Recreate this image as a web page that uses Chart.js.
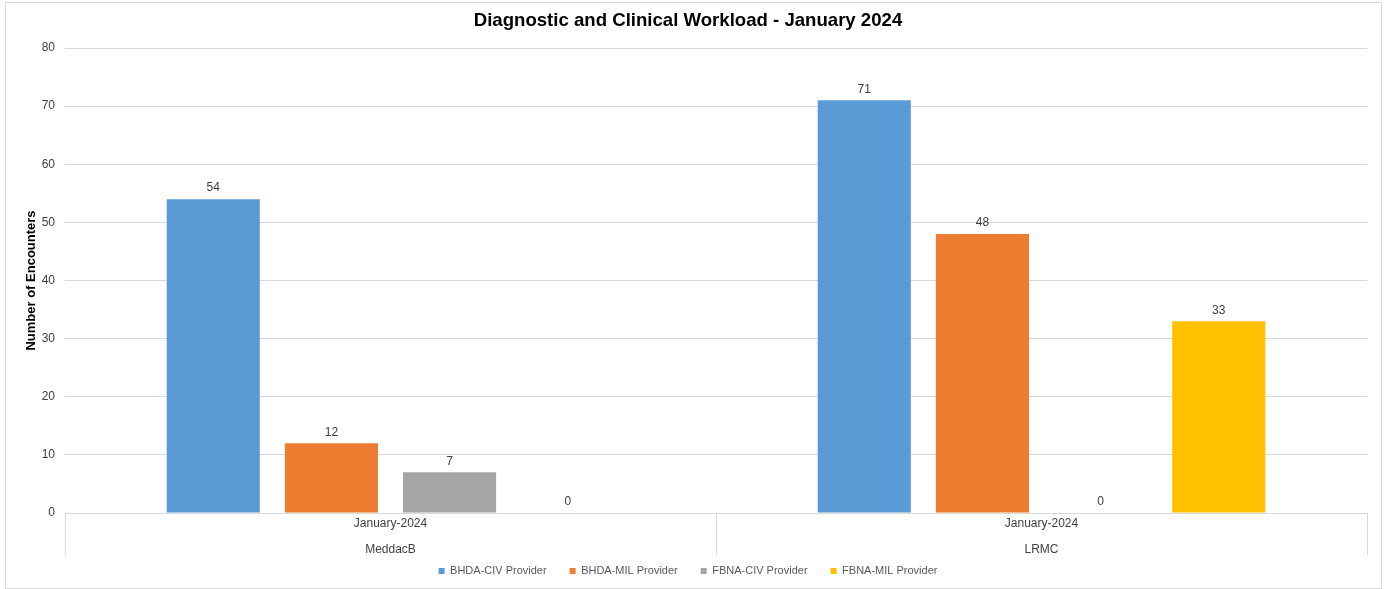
<!DOCTYPE html>
<html>
<head>
<meta charset="utf-8">
<script src="https://cdn.jsdelivr.net/npm/chart.js@4/dist/chart.umd.min.js"></script>
<style>
  body { margin: 0; background: #fff; }
  #wrap { position: absolute; left: 5px; top: 2px; width: 1375px; height: 585px; border: 1px solid #d9d9d9; }
</style>
</head>
<body>
<div id="wrap"><canvas id="WorkloadChart"></canvas></div>
<script>
// Categories (month / site)
var sites = [['January-2024', 'MeddacB'], ['January-2024', 'LRMC']];

// Encounters per provider type
var bhdaCiv = [54, 71];
var bhdaMil = [12, 48];
var fbnaCiv = [7, 0];
var fbnaMil = [0, 33];

var yTicks = [0, 10, 20, 30, 40, 50, 60, 70, 80];

Chart.defaults.font.family = "'Liberation Sans', Arial, sans-serif";
Chart.defaults.color = '#595959';

// value labels above each bar
var barLabels = {
    id: 'barLabels',
    afterDatasetsDraw: function (chart) {
        var ctx = chart.ctx;
        ctx.save();
        ctx.font = "12px 'Liberation Sans', Arial, sans-serif";
        ctx.fillStyle = '#404040';
        ctx.textAlign = 'center';
        ctx.textBaseline = 'bottom';
        chart.data.datasets.forEach(function (ds, i) {
            chart.getDatasetMeta(i).data.forEach(function (bar, j) {
                ctx.fillText(ds.data[j], bar.x, bar.y - 5);
            });
        });
        ctx.restore();
    }
};

// Excel-style category separators below the axis
var catDividers = {
    id: 'catDividers',
    afterDraw: function (chart) {
        var x = chart.scales.x;
        var ctx = chart.ctx;
        var n = chart.data.labels.length;
        var step = (x.right - x.left) / n;
        ctx.save();
        ctx.strokeStyle = '#d9d9d9';
        ctx.lineWidth = 1;
        for (var i = 0; i <= n; i++) {
            var px = Math.round(x.left + step * i) + 0.5;
            ctx.beginPath();
            ctx.moveTo(px, x.top);
            ctx.lineTo(px, x.top + 42);
            ctx.stroke();
        }
        ctx.restore();
    }
};

var ctx = document.getElementById('WorkloadChart');

var workloadChart = new Chart(ctx, {
    type: 'bar',
    data: {
        labels: sites,
        datasets: [
            { label: 'BHDA-CIV Provider', data: bhdaCiv, backgroundColor: '#5b9bd5' },
            { label: 'BHDA-MIL Provider', data: bhdaMil, backgroundColor: '#ed7d31' },
            { label: 'FBNA-CIV Provider', data: fbnaCiv, backgroundColor: '#a5a5a5' },
            { label: 'FBNA-MIL Provider', data: fbnaMil, backgroundColor: '#ffc000' }
        ]
    },
    options: {
        responsive: true,
        maintainAspectRatio: false,
        animation: false,
        categoryPercentage: 0.726,
        barPercentage: 0.788,
        layout: { padding: { left: 3, right: 14, top: 2, bottom: 1.5 } },
        plugins: {
            title: {
                display: true,
                text: 'Diagnostic and Clinical Workload - January 2024',
                color: '#000',
                font: { size: 18.6, weight: 'bold' },
                padding: { top: 5, bottom: 15.7 }
            },
            legend: {
                position: 'bottom',
                labels: {
                    boxWidth: 6,
                    boxHeight: 6,
                    color: '#595959',
                    font: { size: 11 },
                    padding: 23
                }
            },
            tooltip: { enabled: false }
        },
        scales: {
            x: {
                grid: { display: false },
                border: { color: '#d9d9d9' },
                afterFit: function (axis) {
                    // keep the axis box short, let the second label row spill below it
                    axis.height = 29.5;
                    axis._computeLabelArea = function () {};
                },
                ticks: { padding: -10, font: { size: 12, lineHeight: 2.15 }, color: '#404040' }
            },
            y: {
                min: 0,
                max: 80,
                afterBuildTicks: function (axis) {
                    axis.ticks = yTicks.map(function (v) { return { value: v }; });
                },
                afterFit: function (axis) { axis.width = 56; },
                grid: { color: '#d9d9d9', drawTicks: false },
                border: { display: false },
                ticks: { padding: 10, font: { size: 12 }, color: '#404040' },
                title: {
                    display: true,
                    text: 'Number of Encounters',
                    color: '#000',
                    font: { size: 13, weight: 'bold' },
                    padding: { top: 15, bottom: 0 }
                }
            }
        }
    },
    plugins: [barLabels, catDividers]
});
</script>
</body>
</html>
